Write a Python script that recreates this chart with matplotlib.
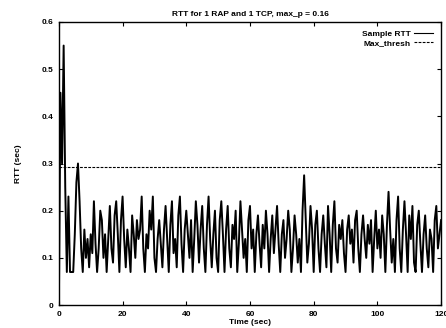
import numpy as np
import matplotlib
matplotlib.use("Agg")
import matplotlib.pyplot as plt

# =====================
# data (0.5 s steps)
# =====================
time_sec = np.arange(0, 120.5, 0.5)

rtt_sec = [
    0.00, 0.45, 0.30, 0.55, 0.25, 0.07, 0.23, 0.07, 0.07, 0.07, 0.15, 0.26, 0.30, 0.22, 0.12, 0.07, 0.16,
    0.10, 0.14, 0.08, 0.15, 0.11, 0.22, 0.13, 0.07, 0.12, 0.20,
    0.18, 0.10, 0.15, 0.07, 0.14, 0.21, 0.12, 0.09, 0.19, 0.22,
    0.15, 0.07, 0.18, 0.23, 0.14, 0.08, 0.16, 0.12, 0.07, 0.19,
    0.15, 0.10, 0.18, 0.14, 0.16, 0.23, 0.12, 0.07, 0.15, 0.12,
    0.20, 0.16, 0.23, 0.10, 0.07, 0.14, 0.18, 0.13, 0.08, 0.16,
    0.21, 0.14, 0.07, 0.17, 0.22, 0.11, 0.14, 0.08, 0.19, 0.23,
    0.13, 0.07, 0.16, 0.20, 0.15, 0.10, 0.18, 0.07, 0.14, 0.22,
    0.17, 0.09, 0.16, 0.21, 0.12, 0.07, 0.17, 0.23, 0.14, 0.08,
    0.15, 0.20, 0.10, 0.07, 0.18, 0.22, 0.15, 0.07, 0.16, 0.21,
    0.12, 0.08, 0.17, 0.14, 0.20, 0.07, 0.13, 0.22, 0.16, 0.10,
    0.14, 0.07, 0.18, 0.21, 0.12, 0.16, 0.07, 0.15, 0.19, 0.13,
    0.08, 0.17, 0.12, 0.20, 0.15, 0.07, 0.14, 0.19, 0.11, 0.16,
    0.21, 0.13, 0.07, 0.15, 0.18, 0.10, 0.14, 0.20, 0.16, 0.07,
    0.12, 0.19, 0.15, 0.09, 0.14, 0.07, 0.20, 0.275, 0.18, 0.09,
    0.13, 0.21, 0.16, 0.07, 0.17, 0.20, 0.12, 0.07, 0.15, 0.19,
    0.13, 0.08, 0.21, 0.15, 0.07, 0.17, 0.22, 0.12, 0.09, 0.17,
    0.14, 0.18, 0.11, 0.07, 0.16, 0.19, 0.13, 0.16, 0.09, 0.18,
    0.20, 0.12, 0.07, 0.15, 0.19, 0.14, 0.10, 0.17, 0.13, 0.18,
    0.07, 0.14, 0.20, 0.12, 0.16, 0.10, 0.19, 0.15, 0.07, 0.17,
    0.24, 0.16, 0.09, 0.14, 0.07, 0.18, 0.23, 0.12, 0.07, 0.16,
    0.22, 0.15, 0.07, 0.19, 0.14, 0.21, 0.09, 0.07, 0.17, 0.20,
    0.13, 0.07, 0.15, 0.19, 0.12, 0.08, 0.16, 0.14, 0.07, 0.18,
    0.21, 0.12, 0.15, 0.18,
]

max_thresh = 0.293

x_ticks = [0, 20, 40, 60, 80, 100, 120]
y_ticks = [0, 0.1, 0.2, 0.3, 0.4, 0.5, 0.6]
y_tick_labels = ["0", "0.1", "0.2", "0.3", "0.4", "0.5", "0.6"]

# =====================
# plot
# =====================
plt.rcParams["font.family"] = ["Liberation Sans", "DejaVu Sans"]
plt.rcParams["font.weight"] = "bold"

fig = plt.figure(figsize=(4.46, 3.28), dpi=100)
ax = fig.add_axes([0.132, 0.070, 0.857, 0.863])

ax.plot(time_sec, rtt_sec, color="black", lw=1.4, label="Sample RTT")
ax.axhline(max_thresh, color="black", lw=0.8, ls=(0, (2.5, 1.2)), label="Max_thresh")

ax.set_xlim(0, 120)
ax.set_ylim(0, 0.6)
ax.set_xticks(x_ticks)
ax.set_yticks(y_ticks)
ax.set_yticklabels(y_tick_labels)
ax.tick_params(direction="in", length=3, width=0.8, labelsize=6,
               top=True, right=True, pad=4)
for s in ax.spines.values():
    s.set_linewidth(1.0)

ax.set_title("RTT for 1 RAP and 1 TCP, max_p = 0.16", fontsize=6, fontweight="bold", pad=4)
ax.set_xlabel("Time (sec)", fontsize=6, fontweight="bold", labelpad=1)
ax.set_ylabel("RTT (sec)", fontsize=6, fontweight="bold", labelpad=14)

leg = ax.legend(loc="upper right", frameon=False, markerfirst=False, fontsize=6,
                handlelength=2.2, handletextpad=0.5, borderaxespad=0.6, labelspacing=0.1)
for t in leg.get_texts():
    t.set_ha("right")
leg.get_lines()[0].set_linewidth(0.8)

fig.savefig("out.png", dpi=100)
